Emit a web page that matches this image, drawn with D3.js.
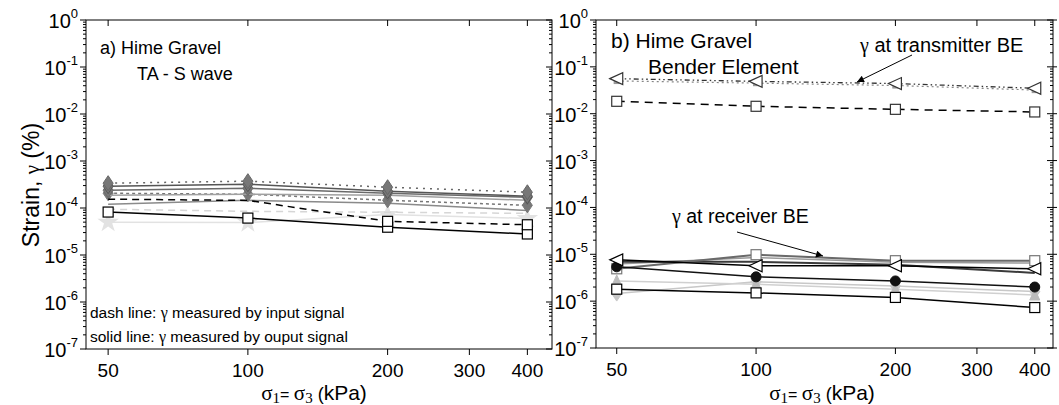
<!DOCTYPE html>
<html><head><meta charset="utf-8">
<script src="https://cdn.jsdelivr.net/npm/d3@7"></script>
<style>
body{margin:0;background:#fff;}
svg{display:block;font-family:"Liberation Sans",Arial,sans-serif;}
</style></head>
<body><svg id="c" width="1059" height="405"></svg>
<script>
// ---------------- data ----------------
const pressures = [50, 100, 200, 400];
const xTickValues = [50, 100, 200, 300, 400];
const yDecades = [0, -1, -2, -3, -4, -5, -6, -7];

// panel a) TA - S wave
const aSquareSolid  = [8.2e-5, 6.1e-5, 3.9e-5, 2.8e-5];
const aSquareDash   = [1.54e-4, 1.45e-4, 5.2e-5, 4.4e-5];
const aDiamondDot   = [3.37e-4, 3.72e-4, 2.77e-4, 2.16e-4];
const aDiamondSolid = [2.91e-4, 3.21e-4, 2.27e-4, 1.78e-4];
const aGray1        = [2.39e-4, 2.64e-4, 2.06e-4, 1.69e-4];
const aGray2        = [1.87e-4, 1.96e-4, 1.87e-4, 1.46e-4];
const aGrayDash     = [2.06e-4, 1.96e-4, 1.46e-4, 1.14e-4];
const aGray3        = [1.2e-4, 1.46e-4, 1.26e-4, 8.9e-5];
const aLightDash    = [9.4e-5, 8.5e-5, 8.1e-5, 7.7e-5];
const aStar         = [5.0e-5, 4.9e-5, 7.3e-5, 6.0e-5];

// panel b) Bender element
const bTriTop   = [5.6e-2, 4.9e-2, 4.4e-2, 3.5e-2];
const bGrayTop  = [5.0e-2, 4.5e-2, 4.0e-2, 3.2e-2];
const bSqTop    = [1.84e-2, 1.44e-2, 1.24e-2, 1.09e-2];
const bTriRec   = [7.6e-6, 5.7e-6, 5.7e-6, 4.9e-6];
const bSqGray   = [4.9e-6, 9.8e-6, 7.3e-6, 7.3e-6];
const bCircle   = [5.4e-6, 3.3e-6, 2.7e-6, 2.0e-6];
const bSqRec    = [1.8e-6, 1.5e-6, 1.2e-6, 7.3e-7];
const bLightTri = [2.7e-6, 2.3e-6, 1.8e-6, 1.35e-6];
const bLightDia = [1.45e-6, 2.6e-6, 2.1e-6, 1.6e-6];
const bDark     = [6.9e-6, 6.9e-6, 6.0e-6, 4.0e-6];
const bGrayRec  = [6.2e-6, 8.5e-6, 6.8e-6, 6.5e-6];

// ---------------- drawing ----------------
const svg = d3.select("#c");
const FONT = '"Liberation Sans",Arial,sans-serif';
const SERIF = '"Liberation Serif","Times New Roman",serif';

function panel(opt){
  const x = d3.scaleLog().domain(opt.xDomain).range([opt.x0, opt.x1]);
  const y = d3.scaleLog().domain([1e-7, 1]).range([opt.y1, opt.y0]);
  const g = svg.append("g");

  g.append("rect").attr("x", opt.x0).attr("y", opt.y0)
    .attr("width", opt.x1 - opt.x0).attr("height", opt.y1 - opt.y0)
    .attr("fill", "none").attr("stroke", "#000").attr("stroke-width", 1);

  const minors = [];
  for (let d = -7; d < 0; d++) for (let m = 2; m <= 9; m++) minors.push(m * Math.pow(10, d));
  g.selectAll(".ml").data(minors).enter().append("line")
    .attr("x1", opt.x0 - 3).attr("x2", opt.x0).attr("y1", d => y(d)).attr("y2", d => y(d))
    .attr("stroke", "#000");
  g.selectAll(".mr").data(minors).enter().append("line")
    .attr("x1", opt.x1 - 3).attr("x2", opt.x1).attr("y1", d => y(d)).attr("y2", d => y(d))
    .attr("stroke", "#000");
  g.selectAll(".Ml").data(yDecades).enter().append("line")
    .attr("x1", opt.x0 - 6).attr("x2", opt.x0).attr("y1", d => y(Math.pow(10, d))).attr("y2", d => y(Math.pow(10, d)))
    .attr("stroke", "#000");
  g.selectAll(".Mr").data(yDecades).enter().append("line")
    .attr("x1", opt.x1 - 6).attr("x2", opt.x1 + (opt.rightOut ? 4 : 0)).attr("y1", d => y(Math.pow(10, d))).attr("y2", d => y(Math.pow(10, d)))
    .attr("stroke", "#000");
  const yl = g.selectAll(".yl").data(yDecades).enter().append("text")
    .attr("x", opt.x0 - 8).attr("y", d => y(Math.pow(10, d)) + 8)
    .attr("text-anchor", "end").attr("font-size", 20).attr("font-family", FONT);
  yl.append("tspan").text("10");
  yl.append("tspan").attr("dy", -10).attr("font-size", 13).text(d => String(d));

  g.selectAll(".xb").data(xTickValues).enter().append("line")
    .attr("x1", d => x(d)).attr("x2", d => x(d)).attr("y1", opt.y1).attr("y2", opt.y1 + 6).attr("stroke", "#000");
  g.selectAll(".xt").data(xTickValues).enter().append("line")
    .attr("x1", d => x(d)).attr("x2", d => x(d)).attr("y1", opt.y0).attr("y2", opt.y0 + 6).attr("stroke", "#000");
  g.selectAll(".xl").data(xTickValues).enter().append("text")
    .attr("x", d => x(d)).attr("y", opt.y1 + 28).attr("text-anchor", "middle")
    .attr("font-size", 19).attr("font-family", FONT).text(d => d);

  const xt = g.append("text").attr("x", opt.xTitleX).attr("y", 400).attr("text-anchor", "middle")
    .attr("font-family", FONT).attr("font-size", 21);
  xt.append("tspan").attr("font-family", SERIF).attr("font-size", 21).text("σ");
  xt.append("tspan").attr("dy", 3).attr("font-family", SERIF).attr("font-size", 15).text("1");
  xt.append("tspan").attr("dy", -3).attr("font-size", 16).text("= ");
  xt.append("tspan").attr("font-family", SERIF).attr("font-size", 21).text("σ");
  xt.append("tspan").attr("dy", 3).attr("font-family", SERIF).attr("font-size", 15).text("3");
  xt.append("tspan").attr("dy", -3).attr("font-size", 18).text(" (");
  xt.append("tspan").text("kPa)");

  return {x, y, g};
}

function drawSeries(p, values, st){
  const pts = pressures.map((P, i) => [P, values[i]]);
  const line = d3.line().x(d => p.x(d[0])).y(d => p.y(d[1]));
  p.g.append("path").attr("d", line(pts)).attr("fill", "none")
    .attr("stroke", st.color).attr("stroke-width", st.width || 1.5)
    .attr("stroke-dasharray", st.dash || null);
  if (!st.marker) return;
  const mg = p.g.selectAll(null).data(pts).enter().append("g")
    .attr("transform", d => `translate(${p.x(d[0])},${p.y(d[1])})`);
  const s = st.size || 5;
  const fill = st.fill || "#fff", stroke = st.mstroke || st.color;
  if (st.marker === "square") {
    mg.append("rect").attr("x", -s).attr("y", -s).attr("width", 2 * s).attr("height", 2 * s)
      .attr("fill", fill).attr("stroke", stroke).attr("stroke-width", 1.2);
  } else if (st.marker === "triLeft") {
    mg.append("path").attr("d", `M${-s - 1},0 L${s},${-s} L${s},${s} Z`)
      .attr("fill", fill).attr("stroke", stroke).attr("stroke-width", 1.2);
  } else if (st.marker === "triUp") {
    mg.append("path").attr("d", `M0,${-s - 1} L${s},${s} L${-s},${s} Z`)
      .attr("fill", fill).attr("stroke", stroke).attr("stroke-width", 1);
  } else if (st.marker === "diamond") {
    mg.append("path").attr("d", `M0,${-s * 1.5} L${s},0 L0,${s * 1.5} L${-s},0 Z`)
      .attr("fill", fill).attr("stroke", stroke).attr("stroke-width", 1);
  } else if (st.marker === "circle") {
    mg.append("circle").attr("r", s).attr("fill", fill).attr("stroke", stroke);
  } else if (st.marker === "star") {
    mg.append("path").attr("d", d3.symbol().type(d3.symbolStar).size(s * s * 4)())
      .attr("fill", fill).attr("stroke", "none");
  }
}

// ---- panel a ----
const pa = panel({x0: 86, x1: 552, y0: 20, y1: 349, xDomain: [44.8, 452], xTitleX: 314});
drawSeries(pa, aStar,         {color: "#e2e2e2", marker: "star", fill: "#e2e2e2", size: 6});
drawSeries(pa, aLightDash,    {color: "#d6d6d6", dash: "7,5"});
drawSeries(pa, aGray3,        {color: "#8a8a8a"});
drawSeries(pa, aGrayDash,     {color: "#777", dash: "3,3", marker: "diamond", fill: "#777", size: 5});
drawSeries(pa, aGray2,        {color: "#a0a0a0"});
drawSeries(pa, aGray1,        {color: "#6a6a6a", marker: "diamond", fill: "#777", size: 5});
drawSeries(pa, aDiamondSolid, {color: "#555", marker: "diamond", fill: "#777", size: 5});
drawSeries(pa, aDiamondDot,   {color: "#666", dash: "2,5", marker: "diamond", fill: "#777", size: 5});
drawSeries(pa, aSquareDash,   {color: "#000", dash: "7,5"});
drawSeries(pa, aSquareSolid,  {color: "#000", marker: "square", size: 5});
pa.g.selectAll(null).data(pressures.slice(2)).enter().append("rect")
  .attr("x", d => pa.x(d) - 5).attr("y", (d, i) => pa.y(aSquareDash[i + 2]) - 5)
  .attr("width", 10).attr("height", 10).attr("fill", "#fff").attr("stroke", "#000").attr("stroke-width", 1.2);

// ---- panel b ----
const pb = panel({x0: 596, x1: 1053, y0: 20, y1: 348, xDomain: [45.1, 438], xTitleX: 822, rightOut: true});
drawSeries(pb, bGrayTop,  {color: "#888", dash: "2,3", marker: "square", fill: "#999", mstroke: "#999", size: 2.5, width: 1.2});
drawSeries(pb, bTriTop,   {color: "#333", dash: "5,3,1.5,3,1.5,3", marker: "triLeft", size: 6, width: 1.3});
drawSeries(pb, bSqTop,    {color: "#000", dash: "8,6", marker: "square", size: 5, mstroke: "#333"});
drawSeries(pb, bLightDia, {color: "#c8c8c8", marker: "diamond", fill: "#c8c8c8", size: 5});
drawSeries(pb, bLightTri, {color: "#d0d0d0", marker: "triUp", fill: "#bbb", mstroke: "#bbb", size: 5});
drawSeries(pb, bGrayRec,  {color: "#9a9a9a"});
drawSeries(pb, bDark,     {color: "#3a3a3a", width: 2});
drawSeries(pb, bSqGray,   {color: "#6a6a6a", width: 2, marker: "square", mstroke: "#777", size: 5});
drawSeries(pb, bCircle,   {color: "#111", marker: "circle", fill: "#111", size: 5});
drawSeries(pb, bTriRec,   {color: "#000", marker: "triLeft", size: 6});
drawSeries(pb, bSqRec,    {color: "#000", marker: "square", size: 5});

// ---- texts ----
function txt(x, y, s, size){
  return svg.append("text").attr("x", x).attr("y", y).attr("font-family", FONT)
    .attr("font-size", size).attr("fill", "#000").text(s);
}
txt(100, 54, "a) Hime Gravel", 18);
txt(137, 80, "TA - S wave", 18);
const t1 = svg.append("text").attr("x", 90).attr("y", 318).attr("font-family", FONT).attr("font-size", 15.5);
t1.append("tspan").text("dash line: ");
t1.append("tspan").attr("font-family", SERIF).attr("font-size", 16).text("γ");
t1.append("tspan").text(" measured by input signal");
const t2 = svg.append("text").attr("x", 90).attr("y", 342).attr("font-family", FONT).attr("font-size", 15.5);
t2.append("tspan").text("solid line: ");
t2.append("tspan").attr("font-family", SERIF).attr("font-size", 16).text("γ");
t2.append("tspan").text(" measured by ouput signal");

txt(611, 48, "b) Hime Gravel", 21);
txt(648, 74, "Bender Element", 21);
const t3 = svg.append("text").attr("x", 860).attr("y", 52).attr("font-family", FONT).attr("font-size", 20);
t3.append("tspan").attr("font-family", SERIF).attr("font-size", 20).text("γ");
t3.append("tspan").text(" at transmitter BE");
const t4 = svg.append("text").attr("x", 672).attr("y", 223).attr("font-family", FONT).attr("font-size", 19.5);
t4.append("tspan").attr("font-family", SERIF).attr("font-size", 20).text("γ");
t4.append("tspan").text(" at receiver BE");

svg.append("defs").append("marker").attr("id", "ah").attr("viewBox", "0 0 10 10")
  .attr("refX", 10).attr("refY", 5).attr("markerWidth", 9).attr("markerHeight", 7).attr("orient", "auto")
  .attr("markerUnits", "userSpaceOnUse")
  .append("path").attr("d", "M0,0 L10,5 L0,10 Z").attr("fill", "#000");
svg.append("line").attr("x1", 912).attr("y1", 55).attr("x2", 857).attr("y2", 82)
  .attr("stroke", "#000").attr("stroke-width", 1).attr("marker-end", "url(#ah)");
svg.append("line").attr("x1", 737).attr("y1", 232).attr("x2", 823).attr("y2", 256)
  .attr("stroke", "#000").attr("stroke-width", 1).attr("marker-end", "url(#ah)");

const yt = svg.append("text").attr("transform", "translate(39,185) rotate(-90)")
  .attr("text-anchor", "middle").attr("font-family", FONT).attr("font-size", 23);
yt.append("tspan").text("Strain, ");
yt.append("tspan").attr("font-family", SERIF).attr("font-size", 21).text("γ");
yt.append("tspan").text(" (%)");
</script></body></html>
